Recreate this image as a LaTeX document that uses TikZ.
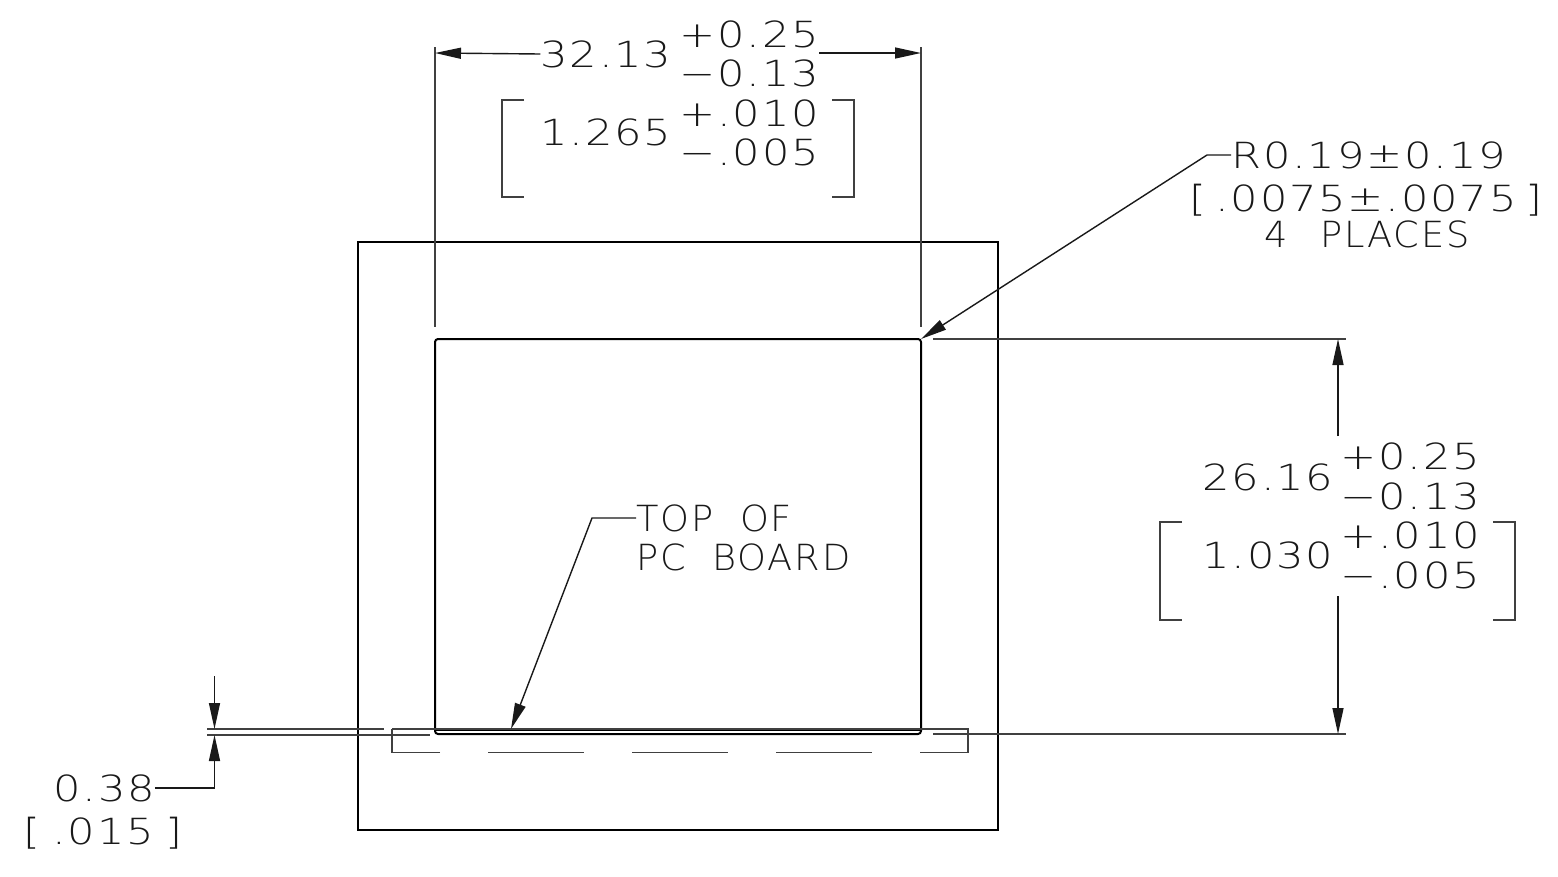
\documentclass[tikz,border=0pt]{standalone}
\usepackage{fontspec}
\setmainfont[LetterSpace=5,FakeStretch=1.2]{DejaVu Sans ExtraLight}
\newfontfamily\capfont[LetterSpace=5,FakeStretch=1.02]{DejaVu Sans ExtraLight}
\usetikzlibrary{positioning,calc,arrows.meta}
\tikzset{
  outline/.style={line width=2pt,black},
  thinline/.style={line width=1.2pt,black!75},
  dimline/.style={line width=1.4pt,black!90},
  dimarrow/.style={dimline,-{Triangle[length=26pt,width=11pt]}},
  cadtext/.style={inner sep=0pt,font=\fontsize{36}{36}\selectfont,text=black!90},
  capstext/.style={cadtext,font=\fontsize{36}{36}\capfont},
}
\begin{document}
\begin{tikzpicture}[x=1pt,y=-1pt]
    \useasboundingbox (0,0) rectangle (1558,876);

    % Housing
    \draw[outline] (358,242) rectangle (998,830);
    \draw[outline,rounded corners=3pt] (435,339) rectangle (921,734);
    \draw[line width=2.4pt] (435,730) -- (921,730);

    % PC board, hidden
    \draw[thinline] (392,729) -- (968,729) -- (968,752.5) -- (920,752.5);
    \draw[thinline] (440,752.5) -- (392,752.5) -- (392,729);
    \foreach \x in {488, 632, 776}
      \draw[thinline] (\x,752.5) -- (\x+96,752.5);

    % Width
    \coordinate (widthleft) at (435,53);
    \coordinate (widthright) at (921,53);
    \draw[thinline] (435,47) -- (435,327);
    \draw[thinline] (921,47) -- (921,327);
    \node[cadtext] (widthval) at (606,54) {32.13};
    \node[cadtext] (widthplus) at (749,34) {+0.25};
    \node[cadtext] (widthminus) at (749,73) {−0.13};
    \node[cadtext] (widthin) at (606,132) {1.265};
    \node[cadtext] (widthinplus) at (749,113) {+.010};
    \node[cadtext] (widthinminus) at (749,152) {−.005};
    \draw[dimarrow] (widthval.west) -- (widthleft);
    \draw[dimarrow] (widthplus.east |- widthright) -- (widthright);
    \draw[thinline] (524,100) -- (502,100) -- (502,197) -- (524,197);
    \draw[thinline] (832,100) -- (854,100) -- (854,197) -- (832,197);

    % Corner radius
    \coordinate (corner) at (921,339);
    \node[cadtext,anchor=west] (radius) at (1231,155) {R0.19±0.19};
    \node[cadtext] (radiusin) at (1366,200) {[\hspace{9pt}.0075±.0075\hspace{9pt}]};
    \node[capstext] (places) at (1367,234) {4\ \ \,PLACES};
    \draw[dimarrow] (radius.west) -- (1207,155) -- (corner);

    % Height
    \coordinate (heighttop) at (1338,339);
    \coordinate (heightbot) at (1338,734);
    \draw[thinline] (933,339) -- (1346,339);
    \draw[thinline] (933,734) -- (1346,734);
    \node[cadtext] (heightval) at (1268,477) {26.16};
    \node[cadtext] (heightplus) at (1410,456) {+0.25};
    \node[cadtext] (heightminus) at (1410,496) {−0.13};
    \node[cadtext] (heightin) at (1268,555) {1.030};
    \node[cadtext] (heightinplus) at (1410,535) {+.010};
    \node[cadtext] (heightinminus) at (1410,575) {−.005};
    \draw[dimarrow] (1338,436) -- (heighttop);
    \draw[dimarrow] (1338,596) -- (heightbot);
    \draw[thinline] (1182,522) -- (1160,522) -- (1160,620) -- (1182,620);
    \draw[thinline] (1493,522) -- (1515,522) -- (1515,620) -- (1493,620);

    % Board note
    \coordinate (boardtop) at (511,729);
    \node[capstext,anchor=west] (topof) at (636,518) {TOP\ \ OF};
    \node[capstext,anchor=west] (pcboard) at (636,557) {PC\ \ BOARD};
    \draw[dimarrow] (topof.west) -- (592,518) -- (boardtop);

    % Offset
    \coordinate (offsettop) at (214.5,729);
    \coordinate (offsetbot) at (214.5,735);
    \draw[thinline] (207,729) -- (384,729);
    \draw[thinline] (207,735) -- (430,735);
    \node[cadtext] (offsetval) at (104,788) {0.38};
    \node[cadtext] (offsetin) at (103,833) {[\,\,.015\,\,]};
    \draw[dimarrow] (offsetval.east) -- (214.5,788) -- (offsetbot);
    \draw[dimarrow] (214.5,676) -- (offsettop);
\end{tikzpicture}
\end{document}
